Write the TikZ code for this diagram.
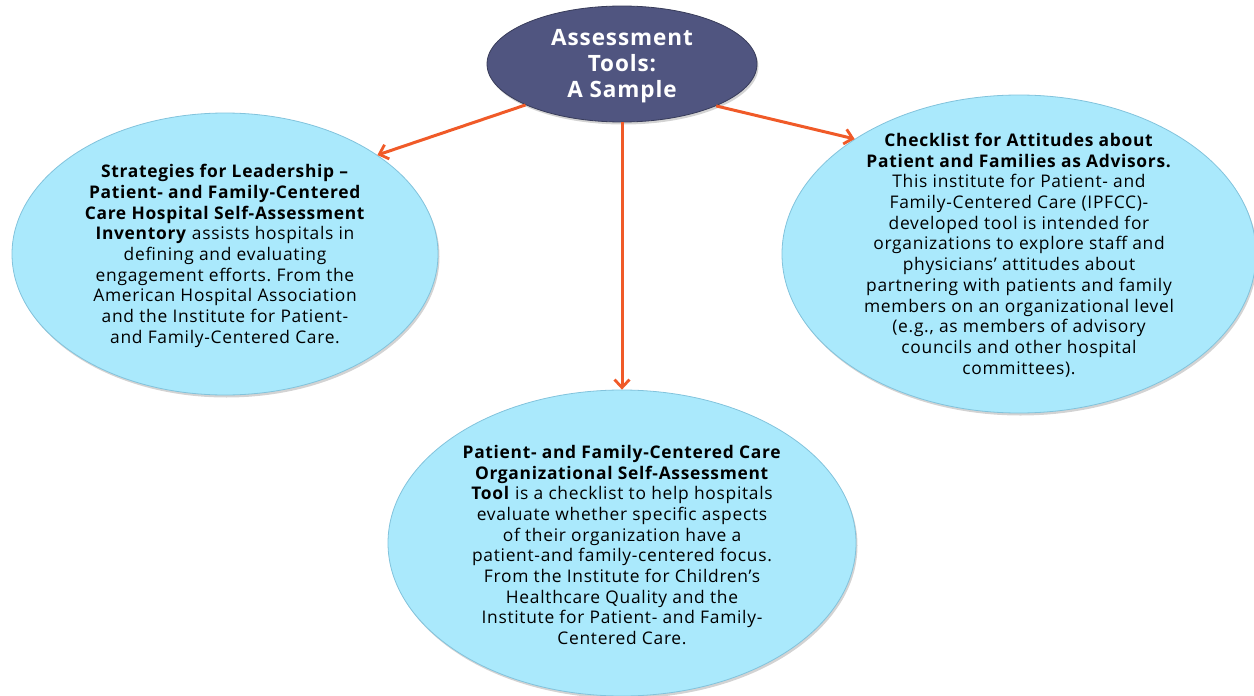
\documentclass[tikz,border=0pt]{standalone}
\usepackage{fontspec}
\setmainfont{Open Sans}[LetterSpace=4]
\frenchspacing
\usetikzlibrary{shapes.geometric,arrows.meta,shadows}
\definecolor{bubble}{RGB}{170,233,252}
\definecolor{bubbleedge}{RGB}{130,195,220}
\definecolor{topfill}{RGB}{80,85,128}
\definecolor{arrowc}{RGB}{240,90,40}
\tikzset{
  bubblenode/.style={ellipse, fill=bubble, draw=bubbleedge, line width=0.8pt, inner sep=0pt,
     drop shadow={opacity=0.35, shadow xshift=1.5pt, shadow yshift=-2.5pt}},
  topnode/.style={ellipse, fill=topfill, draw=topfill!70!black, line width=0.8pt, inner sep=0pt,
     drop shadow={opacity=0.35, shadow xshift=1.5pt, shadow yshift=-2.5pt}},
  bodytext/.style={align=center, inner sep=0pt, font=\fontsize{17.4}{20.7}\selectfont},
  conn/.style={draw=arrowc, line width=3pt, -{Straight Barb[length=8pt,width=15pt,line width=2.8pt]}}
}
\begin{document}
\begin{tikzpicture}[x=1pt,y=-1pt]
\useasboundingbox (0,0) rectangle (1254,696);

\node[topnode, minimum width=270pt, minimum height=116pt] (top) at (622,64) {};
\node[align=center, inner sep=0pt, text=white, font=\bfseries\fontsize{22.5}{26}\selectfont] (toptext) at (622,66)
  {Assessment\\Tools:\\A Sample};

\node[bubblenode, minimum width=426pt, minimum height=282pt] (left) at (225,254) {};
\node[bodytext] (lefttext) at (225,256)
  {\textbf{Strategies for Leadership –}\\
   \textbf{Patient- and Family-Centered}\\
   \textbf{Care Hospital Self-Assessment}\\
   \textbf{Inventory} assists hospitals in\\
   defining and evaluating\\
   engagement efforts. From the\\
   American Hospital Association\\
   and the Institute for Patient-\\
   and Family-Centered Care.};

\node[bubblenode, minimum width=474pt, minimum height=318pt] (right) at (1019,254) {};
\node[bodytext] (righttext) at (1019,255)
  {\textbf{Checklist for Attitudes about}\\
   \textbf{Patient and Families as Advisors.}\\
   This institute for Patient- and\\
   Family-Centered Care (IPFCC)-\\
   developed tool is intended for\\
   organizations to explore staff and\\
   physicians’ attitudes about\\
   partnering with patients and family\\
   members on an organizational level\\
   (e.g., as members of advisory\\
   councils and other hospital\\
   committees).};

\node[bubblenode, minimum width=468pt, minimum height=306pt] (bottom) at (622,543) {};
\node[bodytext] (bottomtext) at (622,545)
  {\textbf{Patient- and Family-Centered Care}\\
   \textbf{Organizational Self-Assessment}\\
   \textbf{Tool} is a checklist to help hospitals\\
   evaluate whether specific aspects\\
   of their organization have a\\
   patient-and family-centered focus.\\
   From the Institute for Children’s\\
   Healthcare Quality and the\\
   Institute for Patient- and Family-\\
   Centered Care.};

\draw[conn] (top.203.3) -- (left.33.1);
\draw[conn] (top.south) -- (bottom.north);
\draw[conn] (top.336.2) -- (right.145.8);
\end{tikzpicture}
\end{document}
